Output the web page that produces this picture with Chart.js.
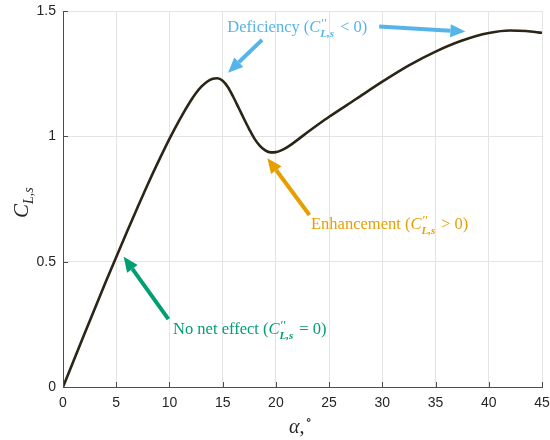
<!DOCTYPE html>
<html>
<head>
<meta charset="utf-8">
<script src="https://cdn.jsdelivr.net/npm/chart.js@4.4.0/dist/chart.umd.min.js"></script>
<style>
  html, body { margin: 0; padding: 0; background: #fff; }
</style>
</head>
<body>
<canvas id="chart" width="550" height="440"></canvas>
<script>
// ---------- Data ----------
const alphaDeg = [0, 2, 4, 6, 7, 8, 9, 10, 11, 12, 12.5, 13, 13.5, 14, 14.5, 15, 15.5, 16, 16.5, 17, 17.5, 18, 18.5, 19, 19.5, 20, 20.5, 21, 22, 23, 24, 25, 27.5, 30, 32.5, 35, 37.5, 40, 42, 43.5, 45];
const clSpanwise = [0, 0.21, 0.418, 0.618, 0.716, 0.812, 0.903, 0.99, 1.07, 1.142, 1.173, 1.198, 1.217, 1.229, 1.232, 1.222, 1.196, 1.157, 1.114, 1.07, 1.028, 0.99, 0.962, 0.944, 0.936, 0.937, 0.944, 0.955, 0.985, 1.017, 1.048, 1.078, 1.148, 1.218, 1.283, 1.338, 1.382, 1.412, 1.422, 1.42, 1.413];
const xTickStep = 5;
const yTickStep = 0.5;

// annotations, in data units (alpha, C_L,s)
const notes = [
    { color: '#56b4e9', label: 'Deficiency (', rel: '< 0)', at: [15.44, 1.418],
      arrows: [[[18.7, 1.385], [15.5, 1.254]], [[29.7, 1.438], [37.8, 1.418]]] },
    { color: '#e69f00', label: 'Enhancement (', rel: '> 0)', at: [23.3, 0.6305],
      arrows: [[[23.15, 0.686], [19.2, 0.913]]] },
    { color: '#009e73', label: 'No net effect (', rel: '= 0)', at: [10.34, 0.2115],
      arrows: [[[9.9, 0.271], [5.7, 0.52]]] }
];

const SERIF = '"Liberation Serif", "DejaVu Serif", serif';
const SANS = '"Liberation Sans", Arial, sans-serif';
const AXIS = '#4d4d4d';

function arrow(ctx, x1, y1, x2, y2, color) {
    const ang = Math.atan2(y2 - y1, x2 - x1);
    const head = 15, half = 6.5;
    const bx = x2 - head * Math.cos(ang), by = y2 - head * Math.sin(ang);
    ctx.save();
    ctx.strokeStyle = color; ctx.fillStyle = color;
    ctx.lineWidth = 4; ctx.lineCap = 'butt';
    ctx.beginPath(); ctx.moveTo(x1, y1); ctx.lineTo(bx, by); ctx.stroke();
    ctx.beginPath();
    ctx.moveTo(x2, y2);
    ctx.lineTo(bx + half * Math.sin(ang), by - half * Math.cos(ang));
    ctx.lineTo(bx - half * Math.sin(ang), by + half * Math.cos(ang));
    ctx.closePath(); ctx.fill();
    ctx.restore();
}

// "label C''_{L,s} rel"
function mathLabel(ctx, x, y, label, rel, color) {
    ctx.save();
    ctx.fillStyle = color; ctx.textAlign = 'left'; ctx.textBaseline = 'alphabetic';
    let cx = x;
    ctx.font = '16.5px ' + SERIF;
    ctx.fillText(label, cx, y); cx += ctx.measureText(label).width;
    ctx.font = 'italic 16.5px ' + SERIF;
    ctx.fillText('C', cx, y); cx += ctx.measureText('C').width + 1;
    ctx.font = '13px ' + SERIF;
    ctx.fillText('\u2032\u2032', cx, y - 5);
    const w1 = ctx.measureText('\u2032\u2032').width;
    ctx.font = 'italic bold 11px ' + SERIF;
    ctx.fillText('L,s', cx - 1, y + 5);
    const w2 = ctx.measureText('L,s').width;
    cx += Math.max(w1, w2) + 5;
    ctx.font = '16.5px ' + SERIF;
    ctx.fillText(rel, cx, y);
    ctx.restore();
}

const extras = {
    id: 'extras',
    afterDraw(chart) {
        const { ctx, chartArea: a, scales: { x, y } } = chart;

        // inward ticks (MATLAB style)
        ctx.save();
        ctx.strokeStyle = AXIS; ctx.lineWidth = 1;
        x.ticks.forEach(t => {
            const px = Math.round(x.getPixelForValue(t.value)) + 0.5;
            ctx.beginPath(); ctx.moveTo(px, a.bottom); ctx.lineTo(px, a.bottom - 5); ctx.stroke();
        });
        y.ticks.forEach(t => {
            const py = Math.round(y.getPixelForValue(t.value)) + 0.5;
            ctx.beginPath(); ctx.moveTo(a.left, py); ctx.lineTo(a.left + 5, py); ctx.stroke();
        });
        ctx.restore();

        // annotations
        notes.forEach(n => {
            n.arrows.forEach(([p, q]) => arrow(ctx,
                x.getPixelForValue(p[0]), y.getPixelForValue(p[1]),
                x.getPixelForValue(q[0]), y.getPixelForValue(q[1]), n.color));
            mathLabel(ctx, x.getPixelForValue(n.at[0]), y.getPixelForValue(n.at[1]), n.label, n.rel, n.color);
        });

        // axis titles
        ctx.save();
        ctx.fillStyle = '#262626';
        ctx.textBaseline = 'alphabetic';
        ctx.font = 'italic 20px ' + SERIF;
        const xa = 289;
        ctx.fillText('\u03b1', xa, 433);
        let w = ctx.measureText('\u03b1').width;
        ctx.font = '20px ' + SERIF;
        ctx.fillText(',', xa + w, 433);
        w += ctx.measureText(',').width;
        ctx.font = '13px ' + SERIF;
        ctx.fillText('\u2218', xa + w + 1, 424);

        ctx.translate(28, 218);
        ctx.rotate(-Math.PI / 2);
        ctx.font = 'italic 21px ' + SERIF;
        ctx.fillText('C', 0, 0);
        const cw = ctx.measureText('C').width;
        ctx.font = 'italic 14px ' + SERIF;
        ctx.fillText('L,s', cw, 5);
        ctx.restore();
    }
};

new Chart(document.getElementById('chart'), {
    type: 'line',
    data: {
        datasets: [{
            data: alphaDeg.map((a, i) => ({ x: a, y: clSpanwise[i] })),
            borderColor: '#2a2516',
            borderWidth: 2.6,
            pointRadius: 0,
            cubicInterpolationMode: 'monotone',
            fill: false
        }]
    },
    options: {
        responsive: false,
        devicePixelRatio: 1,
        animation: false,
        layout: { padding: 0 },
        plugins: { legend: { display: false }, tooltip: { enabled: false } },
        scales: {
            x: {
                type: 'linear', min: 0, max: 45,
                ticks: { stepSize: xTickStep, color: '#262626', font: { family: SANS, size: 14 }, padding: 8, maxRotation: 0 },
                grid: { color: '#e4e4e4', drawTicks: false },
                border: { color: AXIS },
                afterFit: s => { s.height = 53; s.paddingRight = 8; s.paddingLeft = 0; }
            },
            y: {
                min: 0, max: 1.5,
                ticks: { stepSize: yTickStep, color: '#262626', font: { family: SANS, size: 14 }, padding: 7,
                         callback: v => String(v) },
                grid: { color: '#e4e4e4', drawTicks: false },
                border: { color: AXIS },
                afterFit: s => { s.width = 63; s.paddingTop = 11; s.paddingBottom = 0; }
            }
        }
    },
    plugins: [extras]
});
</script>
</body>
</html>
